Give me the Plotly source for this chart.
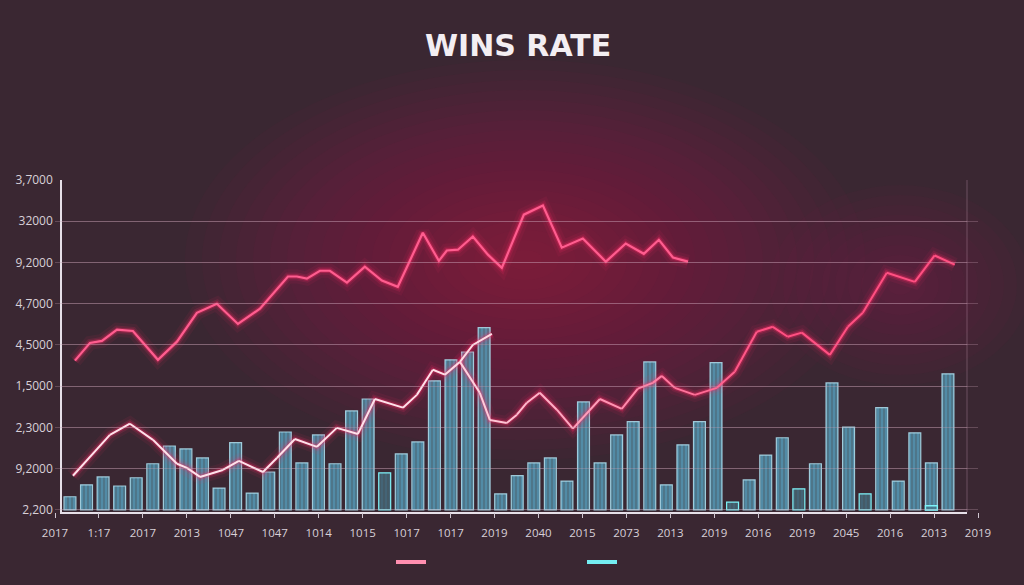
import plotly.graph_objects as go

# ---------------- data ----------------
y_tick_labels = ["2,200", "9,2000", "2,3000", "1,5000", "4,5000",
                 "4,7000", "9,2000", "32000", "3,7000"]
x_tick_labels = ["2017", "1:17", "2017", "2013", "1047", "1047", "1014", "1015",
                 "1017", "1017", "2019", "2040", "2015", "2073", "2013", "2019",
                 "2016", "2019", "2045", "2016", "2013", "2019"]

bar_values = [0.32, 0.61, 0.80, 0.58, 0.78, 1.12, 1.55, 1.48, 1.26, 0.53,
              1.63, 0.41, 0.92, 1.89, 1.14, 1.82, 1.12, 2.40, 2.69, 0.90,
              1.36, 1.65, 3.13, 3.64, 3.83, 4.42, 0.39, 0.83, 1.14, 1.26,
              0.70, 2.62, 1.14, 1.82, 2.14, 3.59, 0.61, 1.58, 2.14, 3.57,
              0.19, 0.73, 1.33, 1.75, 0.51, 1.12, 3.08, 2.01, 0.39, 2.48,
              0.70, 1.87, 1.14, 3.30]
bar_highlight = [19, 40, 44, 48]          # bars drawn with a cyan outline
accent_index = [52]
accent_values = [0.10]

upper_x = [0.30, 1.21, 1.93, 2.84, 3.80, 5.31, 6.46, 7.66, 8.87, 10.14, 11.47,
           12.49, 13.16, 13.70, 14.30, 15.09, 15.69, 16.72, 17.80, 18.83, 19.79,
           21.30, 22.27, 22.75, 23.42, 24.32, 25.23, 26.07, 27.40, 28.55, 29.69,
           30.96, 32.35, 33.55, 34.64, 35.55, 36.40, 37.31]
upper_y = [3.62, 4.05, 4.10, 4.37, 4.34, 3.64, 4.08, 4.78, 5.00, 4.51, 4.88,
           5.36, 5.66, 5.66, 5.61, 5.80, 5.80, 5.51, 5.90, 5.56, 5.41,
           6.72, 6.04, 6.29, 6.31, 6.63, 6.19, 5.87, 7.16, 7.38, 6.36,
           6.58, 6.02, 6.46, 6.21, 6.55, 6.12, 6.02]

lower_x = [0.18, 2.41, 3.62, 5.01, 6.46, 7.06, 7.85, 9.23, 10.20, 11.65, 12.49,
           13.58, 14.91, 16.11, 17.38, 18.41, 20.10, 20.94, 21.91, 22.63, 23.54,
           24.74, 25.35, 26.37, 26.98, 27.58, 28.36, 29.39, 30.36, 31.99, 33.31,
           34.28, 35.18, 35.73, 36.51, 37.72, 39.05, 40.13, 41.46, 42.43, 43.33,
           44.18, 45.87, 46.96, 47.86, 49.31, 51.00, 52.20, 53.41]
lower_y = [0.83, 1.82, 2.09, 1.70, 1.12, 1.02, 0.80, 0.97, 1.19, 0.92, 1.26,
           1.72, 1.53, 1.99, 1.84, 2.69, 2.48, 2.79, 3.40, 3.28, 3.59,
           2.84, 2.18, 2.11, 2.31, 2.60, 2.84, 2.43, 1.97, 2.69, 2.45,
           2.94, 3.08, 3.25, 2.96, 2.79, 2.96, 3.35, 4.32, 4.44, 4.20,
           4.30, 3.76, 4.44, 4.78, 5.75, 5.53, 6.17, 5.95]

fork_x = [23.54, 24.32, 25.47]
fork_y = [3.59, 4.00, 4.27]

# ---------------- style ----------------
W, H = 1024, 585
ML, MR, MT, MB = 40, 40, 180, 73
PW = W - ML - MR
PH = H - MT - MB
BG = "#3a2732"
GRID = "rgba(200,160,180,0.30)"
TXT = "#d8d0d8"
PINK_GLOW = "#ff2a66"


def px_x(p):
    return (p - ML) / PW


def px_y(p):
    return (H - MB - p) / PH


x_dom = [px_x(62), px_x(967)]
lab_dom = [px_x(55), px_x(978)]
n_bars = len(bar_values)
x_range = [-0.48, n_bars - 1 + 1.15]

fig = go.Figure()

# glow background
shapes = []
for k in range(20):
    f = 1 - k / 20
    shapes.append(dict(type="circle", xref="paper", yref="paper", layer="below",
                       x0=px_x(525 - 340 * f), x1=px_x(525 + 340 * f),
                       y0=px_y(260 + 200 * f), y1=px_y(260 - 200 * f),
                       fillcolor="#c01e50", opacity=0.035, line_width=0))
for k in range(10):
    f = 1 - k / 10
    shapes.append(dict(type="circle", xref="paper", yref="paper", layer="below",
                       x0=px_x(900 - 130 * f), x1=px_x(900 + 130 * f),
                       y0=px_y(285 + 100 * f), y1=px_y(285 - 100 * f),
                       fillcolor="#c01e50", opacity=0.03, line_width=0))
# faint right border
shapes.append(dict(type="line", xref="x domain", yref="y domain", x0=1, x1=1,
                   y0=0, y1=1, line=dict(color=GRID, width=1.2)))

# bars
line_cols = ["#7ef2f7" if i in bar_highlight else "rgba(175,225,240,0.85)"
             for i in range(n_bars)]
fill_cols = ["rgba(70,120,140,0.75)" if i in bar_highlight else "rgba(84,148,176,0.92)"
             for i in range(n_bars)]
fig.add_trace(go.Bar(
    x=list(range(n_bars)), y=bar_values, width=0.72, showlegend=False,
    marker=dict(color=fill_cols, line=dict(color=line_cols, width=1.2),
                pattern=dict(shape="|", fgcolor="rgba(175,220,235,0.55)",
                             size=4, solidity=0.3)),
    hoverinfo="skip"))
fig.add_trace(go.Bar(
    x=accent_index, y=accent_values, width=0.72, showlegend=False,
    marker=dict(color="rgba(70,120,140,0.8)", line=dict(color="#7ef2f7", width=1.4)),
    hoverinfo="skip"))


def glow(xs, ys, color):
    for w, op in [(14, 0.07), (8, 0.14), (4.5, 0.3)]:
        fig.add_trace(go.Scatter(x=xs, y=ys, mode="lines", showlegend=False,
                                 line=dict(color=color, width=w), opacity=op,
                                 hoverinfo="skip"))


# upper line
glow(upper_x, upper_y, PINK_GLOW)
fig.add_trace(go.Scatter(x=upper_x, y=upper_y, mode="lines", showlegend=False,
                         line=dict(color="#ff5d8f", width=2.2), hoverinfo="skip"))

# lower line and fork
glow(lower_x, lower_y, PINK_GLOW)
glow(fork_x, fork_y, PINK_GLOW)


def mix(c1, c2, t):
    return "#%02x%02x%02x" % tuple(int(a + (b - a) * t) for a, b in zip(c1, c2))


light, deep = (255, 225, 234), (255, 80, 130)
for i in range(len(lower_x) - 1):
    xm = (lower_x[i] + lower_x[i + 1]) / 2
    t = min(max((xm - 22) / 20, 0), 1)
    fig.add_trace(go.Scatter(x=lower_x[i:i + 2], y=lower_y[i:i + 2], mode="lines",
                             showlegend=False, line=dict(color=mix(light, deep, t), width=2),
                             hoverinfo="skip"))
fig.add_trace(go.Scatter(x=fork_x, y=fork_y, mode="lines", showlegend=False,
                         line=dict(color="#ffdbe4", width=2), hoverinfo="skip"))

# legend entries
fig.add_trace(go.Scatter(x=[None], y=[None], mode="lines", name=" ", legendrank=1,
                         line=dict(color="#ff8fb0", width=4), showlegend=True))
fig.add_trace(go.Scatter(x=[None], y=[None], mode="lines", name=" ", legendrank=2,
                         line=dict(color="#74eef2", width=4), showlegend=True))

# label axis carrier
fig.add_trace(go.Scatter(x=[None], y=[None], xaxis="x2", yaxis="y", showlegend=False))

fig.update_layout(
    width=W, height=H,
    margin=dict(l=ML, r=MR, t=MT, b=MB),
    paper_bgcolor=BG, plot_bgcolor="rgba(0,0,0,0)",
    barmode="overlay",
    shapes=shapes,
    title=dict(text="WINS RATE", x=0.506, xref="container", y=1 - 45 / H,
               yref="container", xanchor="center", yanchor="middle",
               font=dict(family="DejaVu Sans", size=30, color="#f3eef2", weight="bold")),
    xaxis=dict(domain=x_dom, range=x_range, showgrid=False, zeroline=False,
               showticklabels=False, showline=True, linecolor="#e6e0e8", linewidth=2,
               ticks="", fixedrange=True, automargin=False),
    xaxis2=dict(domain=lab_dom, range=[0, len(x_tick_labels) - 1], anchor="y",
                tickvals=list(range(len(x_tick_labels))), ticktext=x_tick_labels,
                showgrid=False, zeroline=False, showline=False,
                ticks="outside", ticklen=5, tickcolor="#cfc6d0", tickwidth=1,
                ticklabelstandoff=5, automargin=False,
                tickfont=dict(family="Open Sans", size=11.5, color=TXT)),
    yaxis=dict(anchor="x", range=[-0.05, 8.0], tickvals=list(range(len(y_tick_labels))),
               ticktext=y_tick_labels, showgrid=True, gridcolor=GRID, gridwidth=1,
               zeroline=False, showline=True, linecolor="#e6e0e8", linewidth=1.5,
               ticks="", ticklabelstandoff=5, automargin=False,
               tickfont=dict(family="Open Sans", size=12, color=TXT)),
    legend=dict(orientation="h", x=(391) / W, xref="container", xanchor="left",
                y=1 - 562 / H, yref="container", yanchor="middle",
                entrywidth=146, entrywidthmode="pixels",
                bgcolor="rgba(0,0,0,0)", font=dict(size=8, color=TXT),
                itemwidth=30, traceorder="normal"),
)

fig.write_html("out.html",
               config={"displayModeBar": False},
               post_script="document.body.style.margin='0';"
                           "document.body.style.background='#3a2732';")
